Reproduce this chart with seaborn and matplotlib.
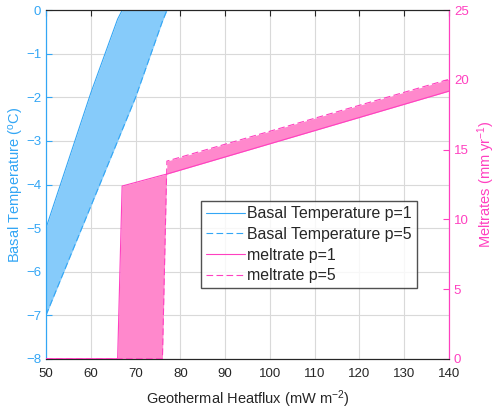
import matplotlib
matplotlib.use("Agg")
import matplotlib.pyplot as plt
import seaborn as sns
import pandas as pd
from matplotlib.lines import Line2D

# Geothermal heatflux (mW m-2) at the break points
heatflux = [50, 60, 66, 67, 70, 76, 77, 140]
# Basal temperature (degC)
temp_p1 = [-5.0, -1.9, -0.2, 0.0, 0.0, 0.0, 0.0, 0.0]
temp_p5 = [-7.0, -4.5, -3.0, -2.75, -2.0, -0.25, 0.0, 0.0]
# Meltrates (mm yr-1)
melt_p1 = [0.0, 0.0, 0.0, 12.39, 12.65, 13.17, 13.25, 19.2]
melt_p5 = [0.0, 0.0, 0.0, 0.0, 0.0, 0.0, 14.18, 20.05]

x_ticks = list(range(50, 141, 10))
temp_ticks = list(range(-8, 1))
melt_ticks = list(range(0, 26, 5))

blue_line = '#33A6F5'
blue_fill = '#86CBFA'
pink_line = '#FF40C0'
pink_fill = '#FF88CC'
dark = '#262626'
dash = (0, (6, 3))

sns.set_style('white')
plt.rcParams['font.family'] = ['Liberation Sans', 'DejaVu Sans']
plt.rcParams['mathtext.default'] = 'regular'

df = pd.DataFrame({'heatflux': heatflux, 'temp_p1': temp_p1, 'temp_p5': temp_p5,
                   'melt_p1': melt_p1, 'melt_p5': melt_p5})

fig = plt.figure(figsize=(5, 4.13), dpi=100)
ax = fig.add_axes([0.092, 0.1315, 0.806, 0.8435])
ax2 = ax.twinx()

# Basal temperature band
ax.fill_between(df['heatflux'], df['temp_p1'], df['temp_p5'], color=blue_fill, lw=0, zorder=2)
sns.lineplot(data=df, x='heatflux', y='temp_p1', ax=ax, color=blue_line, lw=0.8, zorder=3)
sns.lineplot(data=df, x='heatflux', y='temp_p5', ax=ax, color=blue_line, lw=0.8,
             linestyle=dash, zorder=3)

# Meltrate band
ax2.fill_between(df['heatflux'], df['melt_p1'], df['melt_p5'], color=pink_fill, lw=0, zorder=2)
sns.lineplot(data=df, x='heatflux', y='melt_p1', ax=ax2, color=pink_line, lw=0.8, zorder=3)
sns.lineplot(data=df, x='heatflux', y='melt_p5', ax=ax2, color=pink_line, lw=0.8,
             linestyle=dash, zorder=3)

ax.set_xlim(50, 140)
ax.set_ylim(-8, 0)
ax2.set_ylim(0, 25)
ax.set_xticks(x_ticks)
ax.set_yticks(temp_ticks)
ax2.set_yticks(melt_ticks)

ax.grid(True, color='#d9d9d9', lw=0.8, zorder=0)
ax.set_axisbelow(True)

ax.set_xlabel('Geothermal Heatflux (mW m$^{-2}$)', fontsize=10.5, color=dark, labelpad=6)
ax.set_ylabel('Basal Temperature ($^{o}$C)', fontsize=10.5, color=blue_line, labelpad=0)
ax2.set_ylabel('Meltrates (mm yr$^{-1}$)', fontsize=10.5, color=pink_line, labelpad=5)

ax.tick_params(axis='x', direction='in', length=4, width=0.8, colors=dark, labelsize=9.5,
               top=True, pad=7)
ax.tick_params(axis='y', direction='in', length=4, width=0.8, colors=blue_line, labelsize=9.5)
ax2.tick_params(axis='y', direction='in', length=4, width=0.8, colors=pink_line, labelsize=9.5)

for a in (ax, ax2):
    for side in ('top', 'bottom'):
        a.spines[side].set_color(dark)
        a.spines[side].set_linewidth(0.8)
    a.spines['left'].set_color(blue_line)
    a.spines['right'].set_color(pink_line)
    a.spines['left'].set_linewidth(0.8)
    a.spines['right'].set_linewidth(0.8)

handles = [
    Line2D([0], [0], color=blue_line, lw=0.8, linestyle='-', label='Basal Temperature p=1'),
    Line2D([0], [0], color=blue_line, lw=0.8, linestyle=dash, label='Basal Temperature p=5'),
    Line2D([0], [0], color=pink_line, lw=0.8, linestyle='-', label='meltrate p=1'),
    Line2D([0], [0], color=pink_line, lw=0.8, linestyle=dash, label='meltrate p=5'),
]
leg = ax2.legend(handles=handles, loc='lower left', bbox_to_anchor=(0.384, 0.203),
                 fontsize=11.4, frameon=True, fancybox=False, edgecolor=dark,
                 handlelength=2.5, labelspacing=0.36, borderpad=0.3, handletextpad=0.15,
                 borderaxespad=0)
leg.get_frame().set_linewidth(1.0)
leg.set_zorder(10)

fig.savefig('out.png', dpi=100)
